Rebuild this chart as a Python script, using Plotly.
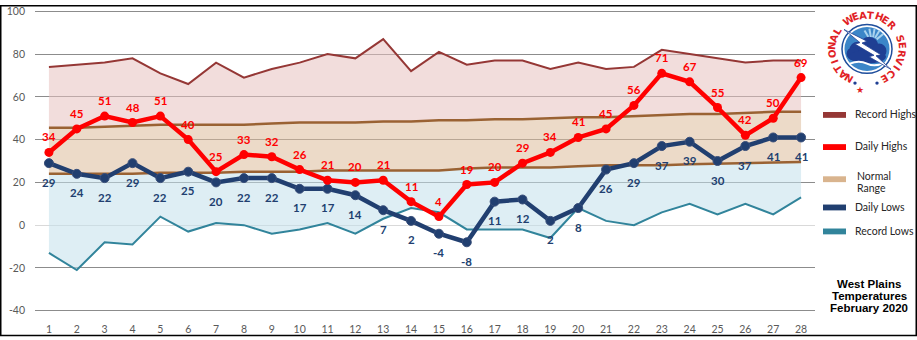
import math
import plotly.graph_objects as go

# ---------------- data ----------------
days = list(range(1, 29))
day_labels = [str(d) for d in days]
record_highs = [74, 75, 76, 78, 71, 66, 76, 69, 73, 76, 80, 78, 87, 72, 81, 75, 77, 77, 73, 76, 73, 74, 82, 80, 78, 76, 77, 77]
normal_highs = [45.5, 45.5, 46, 46.5, 47, 47, 47, 47, 47.5, 48, 48, 48, 48.5, 48.5, 49, 49, 49.5, 49.5, 50, 50.5, 50.5, 51, 51.5, 52, 52, 52.5, 53, 53]
normal_lows = [24, 24, 24, 24, 24.5, 24.5, 24.5, 25, 25, 25, 25.5, 25.5, 25.5, 25.5, 25.5, 26.5, 27, 27, 27, 27.5, 28, 28, 28, 28.5, 28.8, 29, 29.5, 29.5]
record_lows = [-13, -21, -8, -9, 4, -3, 1, 0, -4, -2, 1, -4, 3, 8, 6, -2, -2, -2, -6, 8, 2, 0, 6, 10, 5, 10, 5, 13]
daily_highs = [34, 45, 51, 48, 51, 40, 25, 33, 32, 26, 21, 20, 21, 11, 4, 19, 20, 29, 34, 41, 45, 56, 71, 67, 55, 42, 50, 69]
daily_lows = [29, 24, 22, 29, 22, 25, 20, 22, 22, 17, 17, 14, 7, 2, -4, -8, 11, 12, 2, 8, 26, 29, 37, 39, 30, 37, 41, 41]
y_ticks = [-40, -20, 0, 20, 40, 60, 80, 100]
legend_names = ["Record Highs", "Daily Highs", "Normal", "Daily Lows", "Record Lows"]
title_lines = ["West Plains", "Temperatures", "February 2020"]
logo_text = "NATIONAL WEATHER SERVICE"

# ---------------- styles ----------------
W, H = 917, 340
ML, MR, MT, MB = 35, 102, 5, 25
PW, PH = W - ML - MR, H - MT - MB
Y_RANGE = [-40.6, 100.6]

C_RH = "#953735"
C_DH = "#FF0000"
C_NORM = "#9A6233"
C_DL = "#213F70"
C_RL = "#31849B"
FILL_PINK = "rgba(231,193,191,0.55)"
FILL_TAN = "rgba(220,188,155,0.55)"
FILL_BLUE = "rgba(195,224,235,0.55)"
FONT = "Lato"


def px(x):
    return (x - ML) / PW


def py(y):
    return (H - MB - y) / PH


fig = go.Figure()

# fills (stacked bands)
fig.add_trace(go.Scatter(x=days, y=record_lows, mode="lines", line=dict(width=0),
                         hoverinfo="skip", showlegend=False))
fig.add_trace(go.Scatter(x=days, y=normal_lows, mode="lines", line=dict(width=0),
                         fill="tonexty", fillcolor=FILL_BLUE, hoverinfo="skip", showlegend=False))
fig.add_trace(go.Scatter(x=days, y=normal_highs, mode="lines", line=dict(width=0),
                         fill="tonexty", fillcolor=FILL_TAN, hoverinfo="skip", showlegend=False))
fig.add_trace(go.Scatter(x=days, y=record_highs, mode="lines", line=dict(width=0),
                         fill="tonexty", fillcolor=FILL_PINK, hoverinfo="skip", showlegend=False))

# lines
fig.add_trace(go.Scatter(x=days, y=record_highs, mode="lines", name="Record Highs",
                         line=dict(color=C_RH, width=2), showlegend=False))
fig.add_trace(go.Scatter(x=days, y=normal_highs, mode="lines", name="Normal High",
                         line=dict(color=C_NORM, width=2.5), showlegend=False))
fig.add_trace(go.Scatter(x=days, y=normal_lows, mode="lines", name="Normal Low",
                         line=dict(color=C_NORM, width=2.5), showlegend=False))
fig.add_trace(go.Scatter(x=days, y=record_lows, mode="lines", name="Record Lows",
                         line=dict(color=C_RL, width=2), showlegend=False))
fig.add_trace(go.Scatter(x=days, y=daily_lows, mode="lines+markers", name="Daily Lows",
                         line=dict(color=C_DL, width=4.5),
                         marker=dict(size=9, color=C_DL, line=dict(width=1, color="#3A4F7A")),
                         showlegend=False))
fig.add_trace(go.Scatter(x=days, y=daily_highs, mode="lines+markers", name="Daily Highs",
                         line=dict(color=C_DH, width=4.5),
                         marker=dict(size=9, color=C_DH), showlegend=False))

annotations = []
for d, v in zip(days, daily_highs):
    annotations.append(dict(x=d, y=v, xref="x", yref="y", text=str(v), showarrow=False,
                            yshift=15.5, font=dict(family=FONT, size=11.5, color=C_DH, weight="bold")))
for d, v in zip(days, daily_lows):
    annotations.append(dict(x=d, y=v, xref="x", yref="y", text=str(v), showarrow=False,
                            yshift=-19, font=dict(family=FONT, size=11.5, color=C_DL, weight="bold")))

shapes = []
# ---------------- manual legend ----------------
legend_colors = [C_RH, C_DH, "#D9B48E", C_DL, C_RL]
legend_sw_y = [112.7, 145.7, 178.7, 207.7, 232.3]
legend_tx_y = [112, 145, 175, 207, 232]
for name, col, sy, ty in zip(legend_names, legend_colors, legend_sw_y, legend_tx_y):
    shapes.append(dict(type="rect", xref="paper", yref="paper", x0=px(823), x1=px(846),
                       y0=py(sy + 3), y1=py(sy - 3), fillcolor=col, line=dict(width=0)))
    annotations.append(dict(x=px(853 if name != "Normal" else 855), y=py(ty), xref="paper", yref="paper",
                            text=name, showarrow=False, xanchor="left", yanchor="middle",
                            font=dict(family=FONT, size=10.5, color="#262626")))
annotations.append(dict(x=px(855), y=py(187.5), xref="paper", yref="paper", text="Range",
                        showarrow=False, xanchor="left", yanchor="middle",
                        font=dict(family=FONT, size=10.5, color="#262626")))

# ---------------- title block ----------------
for line, ty in zip(title_lines, [286, 298.5, 311]):
    annotations.append(dict(x=px(869), y=py(ty), xref="paper", yref="paper", text=line,
                            showarrow=False, xanchor="center", yanchor="middle",
                            font=dict(family="Liberation Sans", size=11.5, color="#000000", weight="bold")))

# ---------------- NWS logo ----------------
cx, cy = 867, 45


def circ(x, y, r, **kw):
    return dict(type="circle", xref="paper", yref="paper", x0=px(x - r), x1=px(x + r),
                y0=py(y + r), y1=py(y - r), **kw)


def path(points, close=True):
    s = "M " + " L ".join(f"{px(a):.5f},{py(b):.5f}" for a, b in points)
    return s + (" Z" if close else "")


shapes.append(circ(cx, cy, 25, fillcolor="white", line=dict(color="#1F4E9C", width=1.5)))
shapes.append(circ(cx, cy, 22.5, fillcolor="#3C86C8", line=dict(width=0)))
# sky rays
for ang in [-30, -10, 10, 30, 50]:
    a = math.radians(ang)
    shapes.append(dict(type="path", xref="paper", yref="paper",
                       path=path([(cx + 5 + 6 * math.sin(a), cy - 6 - 6 * math.cos(a)),
                                  (cx + 5 + 15 * math.sin(a), cy - 6 - 15 * math.cos(a))], close=False),
                       line=dict(color="#A9D2EE", width=2)))
# cloud
for (x, y, r) in [(858, 46, 8.5), (869, 42, 9.5), (879, 47, 7.5), (853, 50, 6.5)]:
    shapes.append(circ(x, y, r, fillcolor="#1F3F93", line=dict(width=0)))
shapes.append(dict(type="circle", xref="paper", yref="paper", x0=px(849), x1=px(886),
                   y0=py(60), y1=py(46), fillcolor="#1F3F93", line=dict(width=0)))
# wave
shapes.append(dict(type="path", xref="paper", yref="paper",
                   path=f"M {px(850):.5f},{py(60):.5f} Q {px(859):.5f},{py(56):.5f} {px(867):.5f},{py(60):.5f} "
                        f"Q {px(875):.5f},{py(64):.5f} {px(884):.5f},{py(59):.5f}",
                   line=dict(color="white", width=2)))
# lightning bolt
bolt = [(844, 25), (867, 37), (862, 39), (881, 51), (876, 52), (891, 66),
        (869, 53), (874, 51.5), (855, 40), (860, 38.5)]
shapes.append(dict(type="path", xref="paper", yref="paper", path=path(bolt),
                   fillcolor="white", line=dict(color="#1F3F93", width=0.8)))
# ring letters
n = len(logo_text)
a0, a1 = -150, 150
R = 35
for i, ch in enumerate(logo_text):
    if ch == " ":
        continue
    th = a0 + (a1 - a0) * i / (n - 1)
    t = math.radians(th)
    lx = cx + R * math.sin(t)
    ly = cy - R * math.cos(t)
    annotations.append(dict(x=px(lx), y=py(ly), xref="paper", yref="paper", text=ch,
                            showarrow=False, textangle=th, xanchor="center", yanchor="middle",
                            font=dict(family="DejaVu Sans", size=10, color="#E11F26", weight="bold")))
# stars
annotations.append(dict(x=px(866), y=py(80), xref="paper", yref="paper", text="★", showarrow=False,
                        font=dict(family="DejaVu Sans", size=9, color="#E11F26")))
for sx in [855, 877]:
    shapes.append(circ(sx, 80, 1.7, fillcolor="#1F3F93", line=dict(width=0)))

# ---------------- chart frame ----------------
shapes.append(dict(type="rect", xref="paper", yref="paper", x0=px(0.75), x1=px(916.25),
                   y0=py(339.25), y1=py(0.75), line=dict(color="#000000", width=1.5),
                   fillcolor="rgba(0,0,0,0)"))

fig.update_layout(
    width=W, height=H, autosize=False,
    margin=dict(l=ML, r=MR, t=MT, b=MB, pad=0),
    paper_bgcolor="white", plot_bgcolor="white",
    font=dict(family=FONT, size=10.5, color="#595959"),
    showlegend=False,
    xaxis=dict(range=[0.5, 28.5], tickmode="array", tickvals=days, ticktext=day_labels,
               showgrid=False, zeroline=False, showline=False, ticks="",
               ticklabelstandoff=9, tickfont=dict(family=FONT, size=10.5, color="#595959"),
               fixedrange=True),
    yaxis=dict(range=Y_RANGE, tickmode="array", tickvals=y_ticks,
               ticktext=[str(v) for v in y_ticks],
               showgrid=True, gridcolor="#8C8C8C", gridwidth=1,
               zeroline=True, zerolinecolor="#D9D9D9", zerolinewidth=1,
               showline=False, ticks="", ticklabelstandoff=9, ticklabeloverflow="allow",
               tickfont=dict(family=FONT, size=10.5, color="#595959"), fixedrange=True),
    shapes=shapes,
    annotations=annotations,
)

fig.write_html("out.html")
